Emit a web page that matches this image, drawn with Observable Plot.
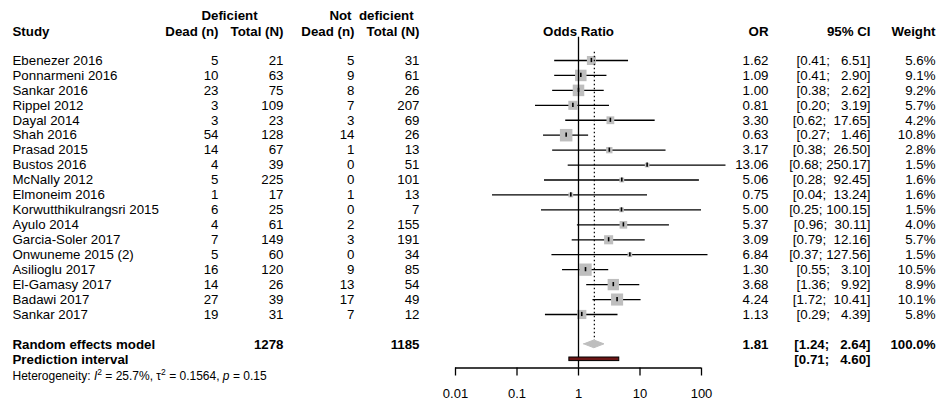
<!DOCTYPE html>
<html><head><meta charset="utf-8">
<script src="https://cdn.jsdelivr.net/npm/d3@7"></script>
<script src="https://cdn.jsdelivr.net/npm/@observablehq/plot@0.6"></script>
<style>
html,body{margin:0;padding:0;background:#fff;}
#chart svg text{white-space:pre;}
</style></head><body><div id="chart"></div>
<script>
// ---------- data ----------
const studies = ["Ebenezer 2016","Ponnarmeni 2016","Sankar 2016","Rippel 2012","Dayal 2014","Shah 2016","Prasad 2015","Bustos 2016","McNally 2012","Elmoneim 2016","Korwutthikulrangsri 2015","Ayulo 2014","Garcia-Soler 2017","Onwuneme 2015 (2)","Asilioglu 2017","El-Gamasy 2017","Badawi 2017","Sankar 2017"];
const deadDef  = [5,10,23,3,3,54,14,4,5,1,6,4,7,5,16,14,27,19];
const totalDef = [21,63,75,109,23,128,67,39,225,17,25,61,149,60,120,26,39,31];
const deadNot  = [5,9,8,7,3,14,1,0,0,1,0,2,3,0,9,13,17,7];
const totalNot = [31,61,26,207,69,26,13,51,101,13,7,155,191,34,85,54,49,12];
const oddsRatio = [1.62,1.09,1.00,0.81,3.30,0.63,3.17,13.06,5.06,0.75,5.00,5.37,3.09,6.84,1.30,3.68,4.24,1.13];
const ciLower   = [0.41,0.41,0.38,0.20,0.62,0.27,0.38,0.68,0.28,0.04,0.25,0.96,0.79,0.37,0.55,1.36,1.72,0.29];
const ciUpper   = [6.51,2.90,2.62,3.19,17.65,1.46,26.50,250.17,92.45,13.24,100.15,30.11,12.16,127.56,3.10,9.92,10.41,4.39];
const weights   = [5.6,9.1,9.2,5.7,4.2,10.8,2.8,1.5,1.6,1.6,1.5,4.0,5.7,1.5,10.5,8.9,10.1,5.8];

const summaryLabel = "Random effects model";
const summaryTotals = [1278, 1185];
const pooled = [1.81, 1.24, 2.64];      // OR, lower, upper
const pooledWeight = "100.0%";
const predictionLabel = "Prediction interval";
const prediction = [0.71, 4.60];
const hetI2 = "25.7%", hetTau2 = "0.1564", hetP = "0.15";

const groupHeaders = ["Deficient", "Not  deficient"];
const colHeaders = ["Study","Dead (n)","Total (N)","Dead (n)","Total (N)","Odds Ratio","OR","95% CI","Weight"];
const tickValues = [0.01, 0.1, 1, 10, 100];
const tickLabels = ["0.01","0.1","1","10","100"];

// ---------- layout ----------
const W = 938, H = 402;
const rowY0 = 60, rowH = 14.94;
const axisRow = (367.5 - rowY0) / rowH;
const tickEndRow = axisRow + 8 / rowH;
const tickLabelRow = (393 - rowY0) / rowH;
const FONT = "'Liberation Sans', Arial, Helvetica, sans-serif";
const FS = 13.3;

const fmtCI = (lo, up) => `[${lo.toFixed(2)}; ${up.toFixed(2).padStart(6, " ")}]`;

const rows = studies.map((s, i) => ({
  study: s, row: i,
  deadDef: String(deadDef[i]), totalDef: String(totalDef[i]),
  deadNot: String(deadNot[i]), totalNot: String(totalNot[i]),
  or: oddsRatio[i], lo: ciLower[i], up: ciUpper[i], w: weights[i],
  orTxt: oddsRatio[i].toFixed(2), ciTxt: fmtCI(ciLower[i], ciUpper[i]),
  wTxt: weights[i].toFixed(1) + "%"
}));
const sumRow = 19, predRow = 20, hetRow = 21.15, hdr1Row = -3.0, hdr2Row = -1.94;

function col(data, text, px, anchor, extra = {}) {
  return Plot.text(data, {y: "row", text, frameAnchor: "left", dx: px, textAnchor: anchor,
    fontSize: FS, fill: "black", ...extra});
}

const summary = [{row: sumRow, label: summaryLabel, t1: String(summaryTotals[0]), t2: String(summaryTotals[1]),
  orTxt: pooled[0].toFixed(2), ciTxt: fmtCI(pooled[1], pooled[2]), wTxt: pooledWeight}];
const predData = [{row: predRow, label: predictionLabel, lo: prediction[0], up: prediction[1], ciTxt: fmtCI(prediction[0], prediction[1])}];
const hdr1 = [{row: hdr1Row}];
const hdr2 = [{row: hdr2Row}];
const dHalf = 0.26;
const diamond = [
  {x: pooled[1], y1: sumRow, y2: sumRow},
  {x: pooled[0], y1: sumRow - dHalf, y2: sumRow + dHalf},
  {x: pooled[2], y1: sumRow, y2: sumRow}
];
const hetData = [{row: hetRow, text: `Heterogeneity: I2 = ${hetI2}, tau2 = ${hetTau2}, p = ${hetP}`}];
const ticks = tickValues.map((v, i) => ({v, label: tickLabels[i]}));

const bold = {fontWeight: "bold"};

const plot = Plot.plot({
  width: W, height: H,
  marginLeft: 0, marginRight: 0, marginTop: 0, marginBottom: 0,
  style: {fontFamily: FONT, fontSize: FS + "px", color: "black", background: "white", overflow: "visible"},
  x: {type: "log", domain: [0.01, 100], range: [455, 701], axis: null},
  y: {type: "linear", domain: [0, 17], range: [rowY0, rowY0 + 17 * rowH], axis: null},
  r: {type: "sqrt", domain: [0, d3.max(weights)], range: [0, 7.05]},
  marks: [
    // headers
    col(hdr1, () => groupHeaders[0], 229, "middle", bold),
    col(hdr1, () => groupHeaders[1], 371, "middle", bold),
    col(hdr2, () => colHeaders[0], 12, "start", bold),
    col(hdr2, () => colHeaders[1], 218, "end", bold),
    col(hdr2, () => colHeaders[2], 283, "end", bold),
    col(hdr2, () => colHeaders[3], 354, "end", bold),
    col(hdr2, () => colHeaders[4], 419, "end", bold),
    Plot.text(hdr2, {x: () => 1, y: "row", text: () => colHeaders[5], fontSize: FS, fontWeight: "bold", fill: "black"}),
    col(hdr2, () => colHeaders[6], 768, "end", bold),
    col(hdr2, () => colHeaders[7], 870, "end", bold),
    col(hdr2, () => colHeaders[8], 935, "end", bold),
    // study rows
    col(rows, "study", 12, "start"),
    col(rows, "deadDef", 218, "end"),
    col(rows, "totalDef", 283, "end"),
    col(rows, "deadNot", 354, "end"),
    col(rows, "totalNot", 419, "end"),
    col(rows, "orTxt", 768, "end"),
    col(rows, "ciTxt", 870, "end"),
    col(rows, "wTxt", 935, "end"),
    // summary rows
    col(summary, "label", 12, "start", bold),
    col(summary, "t1", 283, "end", bold),
    col(summary, "t2", 419, "end", bold),
    col(summary, "orTxt", 768, "end", bold),
    col(summary, "ciTxt", 870, "end", bold),
    col(summary, "wTxt", 935, "end", bold),
    col(predData, "label", 12, "start", bold),
    col(predData, "ciTxt", 870, "end", bold),
    col(hetData, "text", 12, "start", {fontSize: 12}),
    // forest
    Plot.ruleY(rows, {y: "row", x1: "lo", x2: "up", stroke: "black", strokeWidth: 1.3}),
    Plot.dot(rows, {x: "or", y: "row", r: "w", symbol: "square", fill: "#bebebe", stroke: "none"}),
    Plot.ruleX([1], {y1: () => -1.55, y2: () => axisRow, stroke: "black", strokeWidth: 1.3}),
    Plot.ruleX([pooled[0]], {y1: () => -0.55, y2: () => sumRow - dHalf, stroke: "black", strokeWidth: 1.2, strokeDasharray: "1.5,2.5"}),
    Plot.ruleX(rows, {x: "or", y1: d => d.row - 0.14, y2: d => d.row + 0.14, stroke: "black", strokeWidth: 1.6}),
    Plot.areaY(diamond, {x: "x", y1: "y1", y2: "y2", fill: "#bebebe", stroke: "#bebebe", curve: "linear"}),
    Plot.rect(predData, {x1: "lo", x2: "up", y1: d => d.row - 0.12, y2: d => d.row + 0.12, fill: "#6b1515", stroke: "black", strokeWidth: 1}),
    // axis (drawn in the same scales)
    Plot.ruleY([axisRow], {x1: () => tickValues[0], x2: () => tickValues[tickValues.length - 1], stroke: "black", strokeWidth: 1.3}),
    Plot.ruleX(ticks, {x: "v", y1: () => axisRow, y2: () => tickEndRow, stroke: "black", strokeWidth: 1.3}),
    Plot.text(ticks, {x: "v", y: () => tickLabelRow, text: "label", fontSize: 13, fill: "black"})
  ]
});

document.getElementById("chart").appendChild(plot);

// rich text for heterogeneity line (italic symbols & superscripts)
d3.select(plot).selectAll("text")
  .filter(function () { return this.textContent.startsWith("Heterogeneity"); })
  .each(function () {
    const t = d3.select(this);
    t.text(null);
    t.append("tspan").text("Heterogeneity: ");
    t.append("tspan").attr("font-style", "italic").text("I");
    t.append("tspan").attr("font-size", "8.5px").attr("dy", "-5").text("2");
    t.append("tspan").attr("dy", "5").text(` = ${hetI2}, \u03C4`);
    t.append("tspan").attr("font-size", "8.5px").attr("dy", "-5").text("2");
    t.append("tspan").attr("dy", "5").text(` = ${hetTau2}, `);
    t.append("tspan").attr("font-style", "italic").text("p");
    t.append("tspan").text(` = ${hetP}`);
  });
</script>
</body></html>
